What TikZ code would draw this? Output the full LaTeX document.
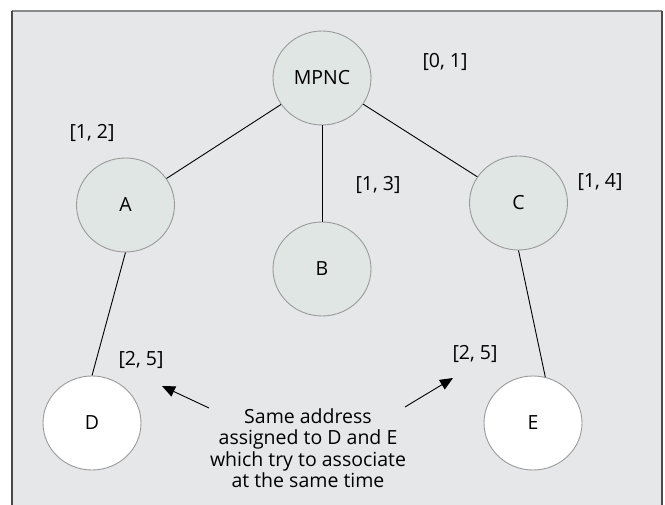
\documentclass[tikz,border=0pt]{standalone}
\usepackage{fontspec}
\setmainfont{Open Sans}
\usetikzlibrary{shapes.geometric,arrows.meta}
\definecolor{bgfill}{HTML}{E6E7E8}
\definecolor{nodefill}{HTML}{DFE6E3}
\definecolor{nodeline}{HTML}{9A9A9A}
\definecolor{frametop}{HTML}{8A8A8A}
\definecolor{frameside}{HTML}{4A4A4A}
\tikzset{
  netnode/.style={ellipse, draw=nodeline, line width=0.9pt, fill=nodefill,
    minimum width=98pt, minimum height=94pt, inner sep=0pt,
    font=\fontsize{19.5}{21.5}\selectfont},
  newnode/.style={netnode, fill=white},
  addr/.style={font=\fontsize{19.5}{21.5}\selectfont, inner sep=0pt},
  link/.style={draw=black, line width=0.9pt},
  pointer/.style={draw=black, line width=0.9pt, -{Triangle[length=13pt,width=11pt]}},
  note/.style={align=center, font=\fontsize{19.5}{21.5}\selectfont, inner sep=0pt}
}
\begin{document}
\begin{tikzpicture}[x=1pt,y=-1pt]
\useasboundingbox (0,0) rectangle (665,505);
\fill[bgfill] (12,11) rectangle (662,510);
\draw[frametop, line width=1.3pt] (12,11) -- (662,11);
\draw[frameside, line width=1.3pt] (12,11) -- (12,510);
\draw[frameside, line width=1.3pt] (662,11) -- (662,510);

\node[netnode] (mpnc) at (322,78) {MPNC};
\node[netnode] (a) at (125.5,205) {A};
\node[netnode] (b) at (322,269) {B};
\node[netnode] (c) at (518.5,203) {C};
\node[newnode] (d) at (92,423) {D};
\node[newnode] (e) at (533,423) {E};

\node[addr] (l01) at (445,62) {[0, 1]};
\node[addr] (l12) at (92,133) {[1, 2]};
\node[addr] (l13) at (378,185) {[1, 3]};
\node[addr] (l14) at (600,182) {[1, 4]};
\node[addr] (l25a) at (141,360) {[2, 5]};
\node[addr] (l25b) at (475,354) {[2, 5]};

\draw[link] (mpnc) -- (a);
\draw[link] (mpnc) -- (b);
\draw[link] (mpnc) -- (c);
\draw[link] (a.south) -- (d.north);
\draw[link] (c.south) -- (e.75);

\node[note] (txt) at (308,448) {Same address\\assigned to D and E\\which try to associate\\at the same time};
\coordinate (tl) at (209,408);
\coordinate (hl) at (162,386);
\coordinate (tr) at (405,407);
\coordinate (hr) at (453,378);
\draw[pointer] (tl) -- (hl);
\draw[pointer] (tr) -- (hr);
\end{tikzpicture}
\end{document}
